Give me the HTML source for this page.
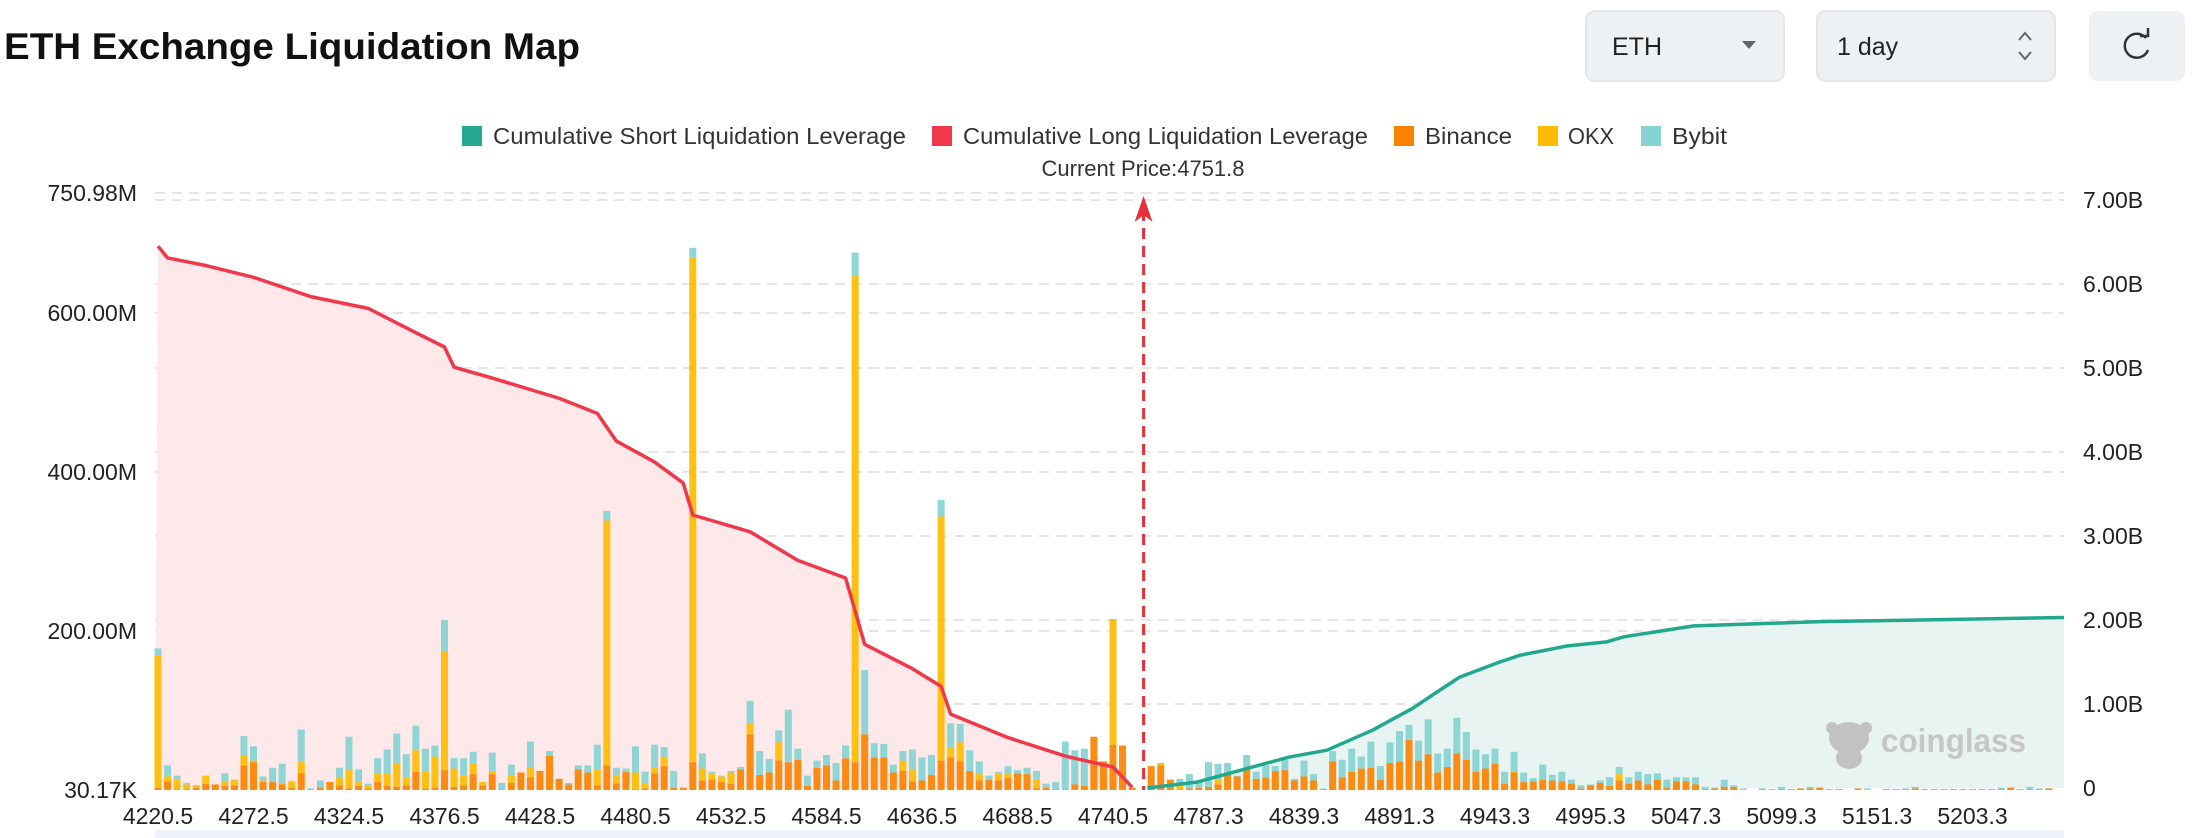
<!DOCTYPE html>
<html><head><meta charset="utf-8">
<style>
html,body{margin:0;padding:0;background:#fff;width:2196px;height:838px;overflow:hidden;font-family:"Liberation Sans",sans-serif;}
svg{display:block}
</style></head>
<body>
<svg id="chart" width="2196" height="838" viewBox="0 0 2196 838" xmlns="http://www.w3.org/2000/svg">
  <text x="4" y="59" font-size="37" font-weight="bold" fill="#111" textLength="576" lengthAdjust="spacingAndGlyphs">ETH Exchange Liquidation Map</text>
  <g>
    <rect x="1586" y="11" width="198" height="70" rx="9" fill="#eef1f4" stroke="#e2e6ea" stroke-width="2"/>
    <text x="1612" y="55" font-size="25" fill="#222">ETH</text>
    <path d="M1742 41 L1756 41 L1749 49 Z" fill="#666"/>
  </g>
  <g>
    <rect x="1817" y="11" width="238" height="70" rx="9" fill="#eef1f4" stroke="#e2e6ea" stroke-width="2"/>
    <text x="1837" y="55" font-size="25" fill="#222">1 day</text>
    <path d="M2019 40 L2025 33 L2031 40 M2019 52 L2025 59 L2031 52" stroke="#666" stroke-width="2" fill="none"/>
  </g>
  <g>
    <rect x="2089" y="11" width="96" height="70" rx="9" fill="#eef1f4"/>
    <path d="M2146 38 A12 12 0 1 0 2148 50" stroke="#333" stroke-width="2.5" fill="none"/>
    <path d="M2140 36 L2148 36 L2148 28" stroke="#333" stroke-width="2.5" fill="none"/>
  </g>

  <g font-size="23" fill="#333">
    <g><rect x="462" y="126" width="20" height="20" fill="#22a88f"/><text x="493" y="144" textLength="413" lengthAdjust="spacingAndGlyphs">Cumulative Short Liquidation Leverage</text></g>
    <g><rect x="932" y="126" width="20" height="20" fill="#f0384a"/><text x="963" y="144" textLength="405" lengthAdjust="spacingAndGlyphs">Cumulative Long Liquidation Leverage</text></g>
    <g><rect x="1394" y="126" width="20" height="20" fill="#fb8200"/><text x="1425" y="144" textLength="87" lengthAdjust="spacingAndGlyphs">Binance</text></g>
    <g><rect x="1538" y="126" width="20" height="20" fill="#ffbb00"/><text x="1568" y="144" textLength="46" lengthAdjust="spacingAndGlyphs">OKX</text></g>
    <g><rect x="1641" y="126" width="20" height="20" fill="#86d3d3"/><text x="1672" y="144" textLength="55" lengthAdjust="spacingAndGlyphs">Bybit</text></g>
  </g>
  <text x="1143" y="176" font-size="22" fill="#333" text-anchor="middle">Current Price:4751.8</text>

  <g id="grid"></g>
  <g id="areas"></g>
  <g id="bars"></g>
  <g id="lines"></g>
  <g id="axes"></g>

  <g fill="#c2c2c2">
    <ellipse cx="1849" cy="738" rx="20" ry="16"/>
    <ellipse cx="1849" cy="758" rx="13" ry="11"/>
    <circle cx="1832" cy="728" r="6"/><circle cx="1866" cy="728" r="6"/>
    <text x="1881" y="752" font-size="33" font-weight="bold" fill="#c6c6c6" textLength="145" lengthAdjust="spacingAndGlyphs">coinglass</text>
  </g>
  <rect x="155" y="830" width="1909" height="8" fill="#eef3fb"/>
</svg>
<script>
const xLabels=["4220.5","4272.5","4324.5","4376.5","4428.5","4480.5","4532.5","4584.5","4636.5","4688.5","4740.5","4787.3","4839.3","4891.3","4943.3","4995.3","5047.3","5099.3","5151.3","5203.3"];
const leftTicks=[0.03017,200,400,600,750.98];
const leftTickLabels=["30.17K","200.00M","400.00M","600.00M","750.98M"];
const rightTicks=[0,1,2,3,4,5,6,7];
const rightTickLabels=["0","1.00B","2.00B","3.00B","4.00B","5.00B","6.00B","7.00B"];
const binance=[3,11,1,1,3,8,7,5,6,31,35,10,10,7,3,21,1,3,10,6,2,5,2,10,5,4,6,23,2,3,25,4,6,20,6,20,1,9,22,16,24,43,14,7,26,22,6,31,8,23,1,2,21,30,3,3,35,12,13,10,8,26,70,19,22,37,35,38,5,28,31,12,40,35,70,41,41,22,24,11,12,19,37,41,36,24,12,13,12,15,21,20,2,3,1,1,7,5,67,36,57,56,3,0,30,31,13,1,2,3,4,7,19,17,26,14,16,24,25,12,17,12,1,36,16,23,27,28,13,34,36,63,37,45,22,29,46,38,23,27,33,8,22,10,11,13,12,11,8,2,6,9,5,12,8,12,7,13,3,11,11,7,1,2,4,4,0,0,1,1,1,1,2,2,3,1,1,0,2,0,0,1,1,1,2,1,1,1,1,1,1,1,1,1,3,1,1,1,2,0];
const okx=[166,6,12,6,3,10,0,6,7,13,2,2,0,2,8,15,0,0,0,9,23,6,3,11,16,30,10,27,21,39,150,23,12,13,4,4,0,10,0,12,0,0,0,0,0,0,20,308,11,0,21,7,7,12,0,0,635,15,8,7,14,0,14,0,0,23,0,0,0,0,0,0,0,612,0,0,0,0,13,15,0,0,307,12,24,0,8,0,9,5,0,0,11,0,0,0,0,0,0,0,158,0,0,0,0,3,0,6,0,0,0,6,0,0,0,0,0,0,0,0,0,0,0,0,0,0,0,0,0,0,0,0,0,0,0,0,0,0,0,0,0,0,2,0,0,0,0,0,0,0,0,0,0,8,0,0,0,0,0,0,0,0,0,0,0,0,0,0,0,0,0,0,0,0,0,0,0,0,0,0,0,0,0,0,0,0,0,0,0,0,0,0,0,0,0,0,0,0,0,0];
const bybit=[9,14,5,2,0,0,0,10,0,24,18,5,18,24,0,40,1,9,0,13,42,15,3,19,30,37,29,31,29,14,39,13,22,15,0,23,8,13,0,33,0,6,0,2,5,9,31,12,9,4,33,14,29,12,21,0,12,19,2,1,2,3,28,30,17,15,66,14,13,9,13,22,16,29,81,18,17,10,12,25,29,25,21,31,23,26,16,5,2,10,4,8,11,5,9,60,43,47,0,0,0,0,0,0,0,0,0,7,18,9,31,20,15,1,18,9,15,6,13,2,20,8,1,13,22,29,15,33,17,26,38,19,25,44,24,23,45,35,28,18,19,15,24,12,4,19,7,12,5,4,1,3,11,9,8,11,13,8,10,5,5,9,3,1,9,2,2,0,1,0,3,0,0,2,0,0,0,0,0,2,0,0,0,1,2,0,0,0,0,0,0,0,0,2,0,0,3,1,0];
const longIdx=[0,1,5,10,16,22,27,30,31,35,42,46,48,52,55,56,62,67,72,74,79,82,83,89,95,100,102];
const longVals=[6.45,6.31,6.22,6.08,5.85,5.71,5.42,5.25,5.01,4.88,4.64,4.46,4.13,3.88,3.63,3.25,3.05,2.71,2.50,1.71,1.42,1.21,0.88,0.60,0.38,0.25,0.01];
const shortIdx=[103.6,108.8,113,118.5,122.4,127.2,131.4,133.5,136.3,140.5,142.6,147.5,151.7,153.5,160.8,174,199.6];
const shortVals=[0,0.07,0.20,0.37,0.45,0.69,0.95,1.11,1.32,1.50,1.58,1.69,1.74,1.80,1.93,1.98,2.03];
const currentIdx=103.2;

const NS="http://www.w3.org/2000/svg";
const X0=155,X1=2064;
const xi=i=>158+i*9.55;
const yL=v=>790-v*159/200;
const yR=b=>788-b*84;
function mk(tag,attrs,parent){const e=document.createElementNS(NS,tag);for(const k in attrs)e.setAttribute(k,attrs[k]);parent.appendChild(e);return e;}
const grid=document.getElementById('grid'),areas=document.getElementById('areas'),bars=document.getElementById('bars'),lines=document.getElementById('lines'),axes=document.getElementById('axes');

rightTicks.forEach(t=>{if(t===0)return;const l=mk('line',{x1:X0,x2:X1,y1:yR(t),y2:yR(t),stroke:'#e6e6e6','stroke-width':2,'stroke-dasharray':'10 7'},grid);

});
leftTicks.forEach(t=>{if(t<1)return;const l=mk('line',{x1:X0,x2:X1,y1:yL(t),y2:yL(t),stroke:'#e6e6e6','stroke-width':2,'stroke-dasharray':'10 7'},grid);

});

let dl='M'+X0+' '+yR(0);longIdx.forEach((k,j)=>{dl+=' L'+xi(k)+' '+yR(longVals[j]);});dl+=' L'+xi(longIdx[longIdx.length-1])+' '+yR(0)+' Z';
const la=mk('path',{d:dl,fill:'#fde9e9'},areas);


let ds='M'+xi(shortIdx[0])+' '+yR(0);shortIdx.forEach((k,j)=>{ds+=' L'+Math.min(xi(k),X1)+' '+yR(shortVals[j]);});ds+=' L'+X1+' '+yR(0)+' Z';
const sa=mk('path',{d:ds,fill:'#e8f4f1'},areas);



for(let i=0;i<binance.length;i++){
  const x=xi(i)-3.5;let base=790;
  const parts=[[binance[i],'#fb8200','binance-bar'],[okx[i],'#ffbb00','okx-bar'],[bybit[i],'#86d3d3','bybit-bar']];
  parts.forEach(p=>{const h=p[0]*159/200;if(h<=0)return;
    const r=mk('rect',{x:x,y:base-h,width:7,height:h,fill:p[1],opacity:0.92},bars);
    
    
    base-=h;});
}

let pl='';longIdx.forEach((k,j)=>{pl+=(j?' L':'M')+xi(k)+' '+yR(longVals[j]);});
const ll=mk('path',{d:pl,fill:'none',stroke:'#f0384a','stroke-width':3.5,'stroke-linejoin':'round'},lines);


let ps='';shortIdx.forEach((k,j)=>{ps+=(j?' L':'M')+Math.min(xi(k),X1)+' '+yR(shortVals[j]);});
const sl=mk('path',{d:ps,fill:'none',stroke:'#22a88f','stroke-width':3.5,'stroke-linejoin':'round'},lines);



const cx=xi(currentIdx);
const cl=mk('line',{x1:cx,x2:cx,y1:210,y2:790,stroke:'#e8303a','stroke-width':3,'stroke-dasharray':'11 7'},lines);


const ca=mk('path',{d:`M${cx} 196 L${cx-9} 222 L${cx} 215 L${cx+9} 222 Z`,fill:'#e8303a'},lines);



leftTicks.forEach((t,j)=>{const e=mk('text',{x:137,y:yL(t)+8,'font-size':23,fill:'#222','text-anchor':'end'},axes);e.textContent=leftTickLabels[j];

});
rightTicks.forEach((t,j)=>{const e=mk('text',{x:2083,y:yR(t)+8,'font-size':23,fill:'#222'},axes);e.textContent=rightTickLabels[j];

});
xLabels.forEach((s,j)=>{const e=mk('text',{x:xi(j*10),y:824,'font-size':23,fill:'#222','text-anchor':'middle'},axes);e.textContent=s;

});
</script>
</body></html>
